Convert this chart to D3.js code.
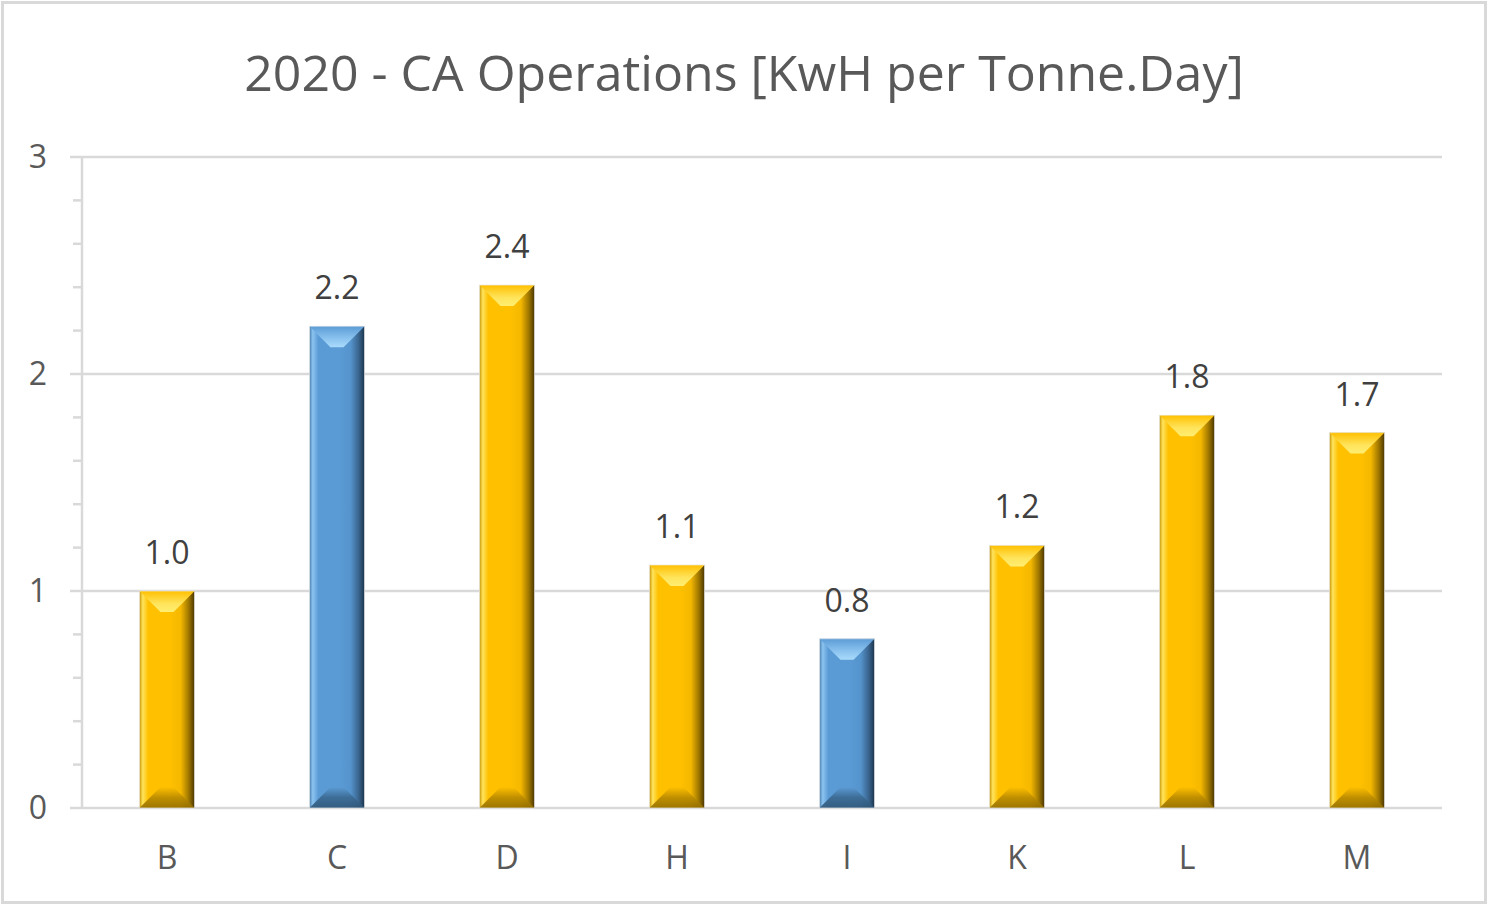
<!DOCTYPE html>
<html>
<head>
<meta charset="utf-8">
<script src="https://cdn.jsdelivr.net/npm/d3@7"></script>
<style>
  html, body { margin: 0; padding: 0; background: #fff; }
  svg { display: block; }
</style>
</head>
<body>
<svg id="chart" width="1488" height="905"></svg>
<script>
const title = "2020 - CA Operations [KwH per Tonne.Day]";
const categories = ["B", "C", "D", "H", "I", "K", "L", "M"];
const values = [1.00, 2.22, 2.41, 1.12, 0.78, 1.21, 1.81, 1.73];
const labels = ["1.0", "2.2", "2.4", "1.1", "0.8", "1.2", "1.8", "1.7"];
const seriesGroup = ["gold", "blue", "gold", "gold", "blue", "gold", "gold", "gold"];
const yTicks = [0, 1, 2, 3];

const W = 1488, H = 905;
const svg = d3.select("#chart");
const font = "'Open Sans', 'Noto Sans', sans-serif";

const palettes = {
  gold: { base: "#FFC000", light: "#FFE45C", mid: "#F5B800", dark: "#4A3600", edge: "#C89400", bottom: "#B98A00", topHi: "#FFEE70" },
  blue: { base: "#5B9BD5", light: "#8CC4F0", mid: "#5493CC", dark: "#1C344C", edge: "#4A7EAF", bottom: "#3A6890", topHi: "#A9DAFA" }
};

const defs = svg.append("defs");
Object.entries(palettes).forEach(([k, p]) => {
  const g = defs.append("linearGradient").attr("id", "body-" + k)
    .attr("x1", "0").attr("x2", "1").attr("y1", "0").attr("y2", "0");
  [[0, p.edge], [0.06, p.light], [0.16, p.base], [0.55, p.base], [0.75, p.mid], [0.9, d3.interpolateRgb(p.base, p.dark)(0.55)], [1, p.dark]]
    .forEach(([o, c]) => g.append("stop").attr("offset", o).attr("stop-color", c));
  const t = defs.append("linearGradient").attr("id", "top-" + k)
    .attr("x1", "0").attr("x2", "0").attr("y1", "0").attr("y2", "1");
  [[0, p.base], [0.6, p.light], [1, p.topHi]].forEach(([o, c]) => t.append("stop").attr("offset", o).attr("stop-color", c));
  const b = defs.append("linearGradient").attr("id", "bot-" + k)
    .attr("x1", "0").attr("x2", "0").attr("y1", "0").attr("y2", "1");
  [[0, p.base], [0.5, p.bottom], [1, d3.interpolateRgb(p.bottom, p.dark)(0.35)]].forEach(([o, c]) => b.append("stop").attr("offset", o).attr("stop-color", c));
});

// outer border
svg.append("rect").attr("x", 2.5).attr("y", 2.5).attr("width", W - 5).attr("height", H - 5)
  .attr("fill", "#fff").attr("stroke", "#D9D9D9").attr("stroke-width", 3);

const x = d3.scaleBand().domain(categories).range([82, 1442]).paddingInner(0.676).paddingOuter(0.338);
const y = d3.scaleLinear().domain([0, 3]).range([808, 157]);

// title
svg.append("text").attr("x", 744).attr("y", 91).attr("text-anchor", "middle")
  .attr("font-family", font).attr("font-size", 50).attr("fill", "#595959").text(title);

// gridlines
svg.append("g").selectAll("line").data(yTicks).join("line")
  .attr("x1", 70).attr("x2", 1442).attr("y1", d => y(d)).attr("y2", d => y(d))
  .attr("stroke", "#D9D9D9").attr("stroke-width", 2.5);

// minor ticks
const minor = d3.range(0, 3.0001, 0.2).filter(v => Math.abs(v - Math.round(v)) > 1e-6);
svg.append("g").selectAll("line").data(minor).join("line")
  .attr("x1", 73).attr("x2", 82).attr("y1", d => y(d)).attr("y2", d => y(d))
  .attr("stroke", "#D9D9D9").attr("stroke-width", 2.5);

// y axis line
svg.append("line").attr("x1", 82).attr("x2", 82).attr("y1", y(3) - 1).attr("y2", y(0) + 1)
  .attr("stroke", "#D9D9D9").attr("stroke-width", 2.5);

// y tick labels
svg.append("g").selectAll("text").data(yTicks).join("text")
  .attr("x", 47).attr("y", d => y(d)).attr("dy", "0.35em").attr("text-anchor", "end")
  .attr("font-family", font).attr("font-size", 32).attr("fill", "#595959").text(d => d);

// bars
const data = categories.map((c, i) => ({ c, v: values[i], lab: labels[i], g: seriesGroup[i] }));
const bars = svg.append("g").selectAll("g").data(data).join("g");
const bw = x.bandwidth();
bars.each(function (d) {
  const g = d3.select(this);
  const x0 = x(d.c), x1 = x0 + bw, y0 = y(d.v), yb = y(0);
  const bev = Math.min(21, (yb - y0) / 3);
  const inset = Math.min(bw * 0.4, 21);
  g.append("rect").attr("x", x0).attr("y", y0).attr("width", bw).attr("height", yb - y0)
    .attr("fill", `url(#body-${d.g})`);
  g.append("polygon")
    .attr("points", [[x0, y0], [x1, y0], [x1 - inset, y0 + bev], [x0 + inset, y0 + bev]].map(p => p.join(",")).join(" "))
    .attr("fill", `url(#top-${d.g})`);
  g.append("polygon")
    .attr("points", [[x0 + inset, yb - bev], [x1 - inset, yb - bev], [x1, yb], [x0, yb]].map(p => p.join(",")).join(" "))
    .attr("fill", `url(#bot-${d.g})`).attr("opacity", 0.9);
  g.append("rect").attr("x", x0).attr("y", y0).attr("width", bw).attr("height", yb - y0)
    .attr("fill", "none").attr("stroke", "#E8E8E8").attr("stroke-width", 1).attr("opacity", 0.7);
});

// data labels
svg.append("g").selectAll("text").data(data).join("text")
  .attr("x", d => x(d.c) + bw / 2).attr("y", d => y(d.v) - 27).attr("text-anchor", "middle")
  .attr("font-family", font).attr("font-size", 32).attr("fill", "#404040").text(d => d.lab);

// x labels
svg.append("g").selectAll("text").data(categories).join("text")
  .attr("x", d => x(d) + bw / 2).attr("y", 869).attr("text-anchor", "middle")
  .attr("font-family", font).attr("font-size", 32).attr("fill", "#595959").text(d => d);
</script>
</body>
</html>
